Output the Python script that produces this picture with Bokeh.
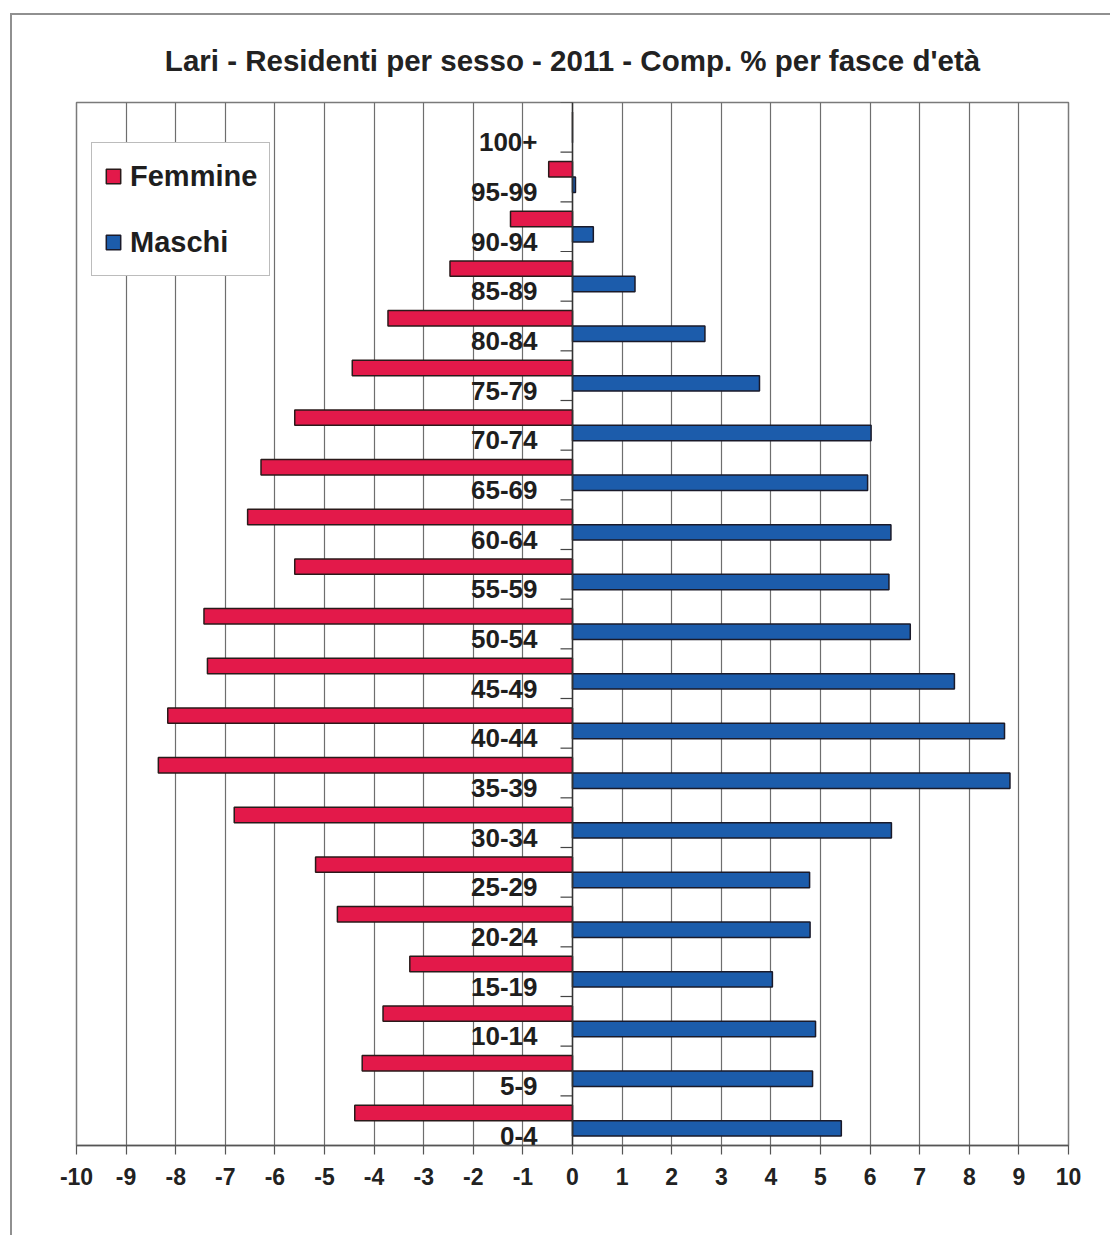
from bokeh.plotting import figure
from bokeh.models import (ColumnDataSource, FixedTicker, Legend, LegendItem, Range1d, Span,
                          PrintfTickFormatter)
from bokeh.embed import file_html
from bokeh.resources import INLINE
from bokeh.core.properties import value

# ---- data (bottom to top) ----
age_groups = ["0-4", "5-9", "10-14", "15-19", "20-24", "25-29", "30-34", "35-39",
              "40-44", "45-49", "50-54", "55-59", "60-64", "65-69", "70-74", "75-79",
              "80-84", "85-89", "90-94", "95-99", "100+"]
femmine = [-4.39, -4.24, -3.82, -3.28, -4.74, -5.18, -6.82, -8.35, -8.16, -7.36,
           -7.43, -5.60, -6.55, -6.28, -5.60, -4.44, -3.72, -2.47, -1.25, -0.48, 0.0]
maschi = [5.42, 4.84, 4.90, 4.03, 4.79, 4.78, 6.43, 8.82, 8.71, 7.70,
          6.81, 6.38, 6.42, 5.95, 6.02, 3.77, 2.67, 1.26, 0.42, 0.06, 0.0]
x_ticks = list(range(-10, 11))
title_text = "Lari - Residenti per sesso - 2011 - Comp. % per fasce d'et\u00e0"

RED = "#E3194A"
BLUE = "#1C5CAB"
FONT = "Liberation Sans"

n = len(age_groups)
centers = [i + 0.5 for i in range(n)]
bar_h = 0.31

src = ColumnDataSource(dict(
    y=centers,
    yf=[c + bar_h / 2 for c in centers],
    ym=[c - bar_h / 2 for c in centers],
    f=femmine, m=maschi, lab=age_groups,
))

p = figure(width=1100, height=1222, output_backend="svg", toolbar_location=None,
           x_range=Range1d(-10, 10), y_range=Range1d(0, n),
           min_border_left=64, min_border_right=44, min_border_top=86, min_border_bottom=92)
p.styles = {"margin-left": "10px", "margin-top": "13px",
            "border-left": "2px solid #909090", "border-top": "2px solid #909090"}

p.title.text = title_text
p.title.align = "center"
p.title.text_font = FONT
p.title.text_font_size = "29.5px"
p.title.text_font_style = "bold"
p.title.text_color = "#222222"
p.title.standoff = 52

p.background_fill_color = "white"
p.border_fill_color = "white"
p.outline_line_color = "#7a7a7a"
p.outline_line_width = 1.5

# grid
p.ygrid.visible = False
p.xgrid.ticker = FixedTicker(ticks=x_ticks)
p.xgrid.grid_line_color = "#6e6e6e"
p.xgrid.grid_line_width = 1.2

# axes
p.yaxis.visible = False
xa = p.xaxis[0]
xa.ticker = FixedTicker(ticks=x_ticks)
xa.formatter = PrintfTickFormatter(format="%d")
xa.major_tick_out = 9
xa.major_tick_in = 0
xa.minor_tick_out = 0
xa.minor_tick_in = 0
xa.axis_line_color = "#555555"
xa.axis_line_width = 1.5
xa.major_tick_line_color = "#555555"
xa.major_tick_line_width = 1.2
xa.major_label_text_font = FONT
xa.major_label_text_font_size = "23px"
xa.major_label_text_font_style = "bold"
xa.major_label_text_color = "#222222"
xa.major_label_standoff = 13

# bars
rf = p.hbar(y="yf", left=0, right="f", height=bar_h, source=src,
            fill_color=RED, line_color="#2a1a1a", line_width=1.5)
rm = p.hbar(y="ym", left=0, right="m", height=bar_h, source=src,
            fill_color=BLUE, line_color="#1a1a2a", line_width=1.5)

# central category axis
p.add_layout(Span(location=0, dimension="height", line_color="#333333", line_width=1.5))
p.ray(x=[0] * (n + 1), y=list(range(n + 1)), length=12, length_units="screen",
      angle=3.14159265, line_color="#444444", line_width=1.2)

p.text(x=0, y="y", text="lab", source=src, x_offset=-35, y_offset=15,
       text_align="right", text_baseline="middle",
       text_font=value(FONT), text_font_size="26px", text_font_style="bold",
       text_color="#1e1e1e")

legend = Legend(items=[LegendItem(label="Femmine", renderers=[rf]),
                       LegendItem(label="Maschi", renderers=[rm])],
                location=(15, 869))
legend.margin = 0
legend.padding = 12
legend.spacing = 24
legend.label_height = 42
legend.glyph_width = 18
legend.glyph_height = 18
legend.label_standoff = 8
legend.label_text_font = FONT
legend.label_text_font_size = "29px"
legend.label_text_font_style = "bold"
legend.label_text_color = "#1e1e1e"
legend.border_line_color = "#7a7a7a"
legend.border_line_width = 1.5
legend.background_fill_color = "white"
legend.background_fill_alpha = 1.0
p.add_layout(legend)

open("out.html", "w").write(file_html(p, INLINE))
